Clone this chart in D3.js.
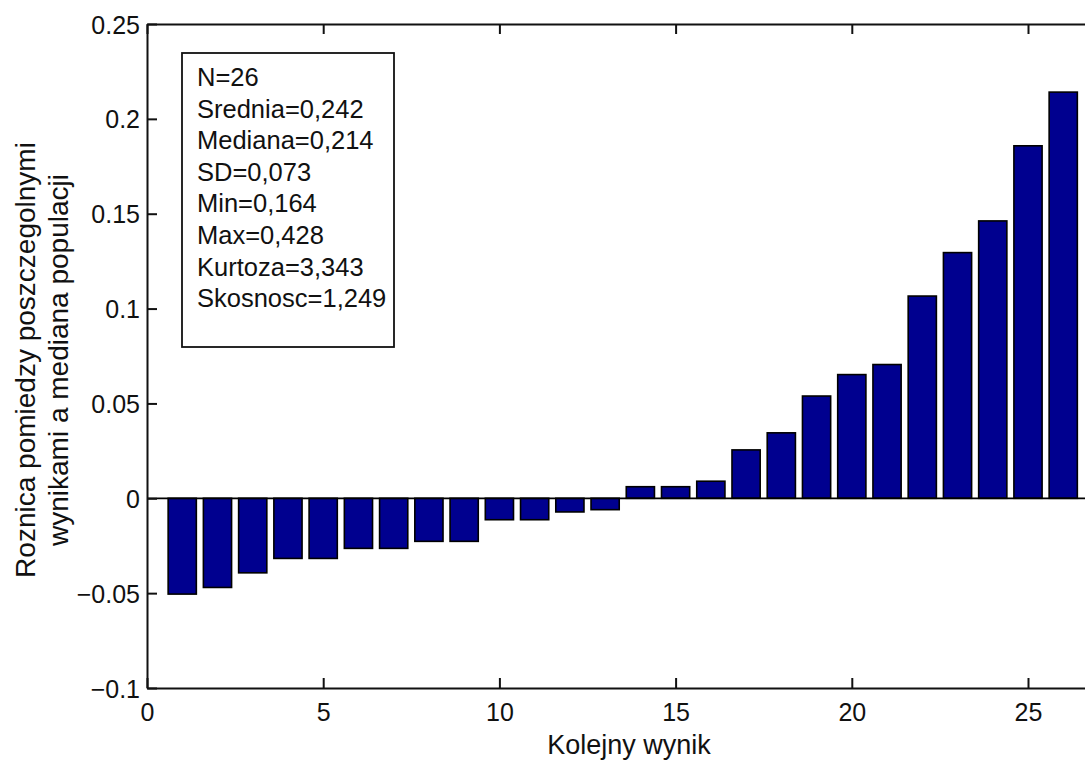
<!DOCTYPE html>
<html>
<head>
<meta charset="utf-8">
<script src="https://cdn.jsdelivr.net/npm/d3@7"></script>
<style>
  html, body { margin: 0; padding: 0; background: #fff; }
  svg { display: block; }
  text { font-family: "Liberation Sans", Arial, Helvetica, sans-serif; fill: #111; }
</style>
</head>
<body>
<svg id="chart" width="1085" height="761"></svg>
<script>
// ---- data ----
const positions = [1,2,3,4,5,6,7,8,9,10,11,12,13,14,15,16,17,18,19,20,21,22,23,24,25,26];
const values = [-0.0505, -0.047, -0.0393, -0.0317, -0.0317, -0.0264, -0.0264, -0.0227, -0.0227,
                -0.0113, -0.0113, -0.0072, -0.006, 0.0061, 0.0061, 0.009, 0.0255, 0.0345,
                0.0539, 0.0652, 0.0705, 0.1066, 0.1295, 0.1462, 0.1858, 0.2141];
const xTicks = [0, 5, 10, 15, 20, 25];
const yTicks = [-0.1, -0.05, 0, 0.05, 0.1, 0.15, 0.2, 0.25];
const yTickLabels = ["\u22120.1", "\u22120.05", "0", "0.05", "0.1", "0.15", "0.2", "0.25"];
const statsLines = ["N=26", "Srednia=0,242", "Mediana=0,214", "SD=0,073", "Min=0,164",
                    "Max=0,428", "Kurtoza=3,343", "Skosnosc=1,249"];
const xLabel = "Kolejny wynik";
const yLabelLines = ["Roznica pomiedzy poszczegolnymi", "wynikami a mediana populacji"];

// ---- layout ----
const svg = d3.select("#chart");
const plotLeft = 147, plotTop = 24, plotBottom = 688;
const x = d3.scaleLinear().domain([0, 27]).range([plotLeft, plotLeft + 27 * 35.24]);
const y = d3.scaleLinear().domain([-0.1, 0.25]).range([plotBottom, plotTop]);
const barW = (x(1) - x(0)) * 0.8;

// bars
svg.append("g").selectAll("rect").data(values).join("rect")
  .attr("x", (d, i) => x(positions[i]) - barW / 2)
  .attr("width", barW)
  .attr("y", d => y(Math.max(0, d)))
  .attr("height", d => Math.abs(y(d) - y(0)))
  .attr("fill", "#00008f")
  .attr("stroke", "#000")
  .attr("stroke-width", 1.6);

// zero baseline
svg.append("line")
  .attr("x1", x(0)).attr("x2", x(27))
  .attr("y1", y(0)).attr("y2", y(0))
  .attr("stroke", "#000").attr("stroke-width", 1.8);

// axes
const axisStyle = g => {
  g.selectAll(".domain").attr("stroke", "#111").attr("stroke-width", 2);
  g.selectAll(".tick line").attr("stroke", "#111").attr("stroke-width", 2);
  g.selectAll(".tick text").style("font-size", "25px").attr("fill", "#111");
};

svg.append("g")
  .attr("transform", `translate(0,${plotBottom})`)
  .call(d3.axisBottom(x).tickValues(xTicks).tickFormat(d3.format("d"))
        .tickSizeInner(-10).tickSizeOuter(0).tickPadding(15))
  .call(axisStyle);

svg.append("g")
  .attr("transform", `translate(0,${plotTop})`)
  .call(d3.axisTop(x).tickValues(xTicks).tickFormat("")
        .tickSizeInner(-10).tickSizeOuter(0))
  .call(axisStyle);

svg.append("g")
  .attr("transform", `translate(${plotLeft},0)`)
  .call(d3.axisLeft(y).tickValues(yTicks).tickFormat((d, i) => yTickLabels[i])
        .tickSizeInner(-10).tickSizeOuter(0).tickPadding(7))
  .call(axisStyle)
  .call(g => g.selectAll(".tick text").attr("dy", "0.36em"));

// stats box
const box = svg.append("g");
box.append("rect")
  .attr("x", 182).attr("y", 53).attr("width", 212).attr("height", 294)
  .attr("fill", "#fff").attr("stroke", "#111").attr("stroke-width", 1.8);
box.selectAll("text").data(statsLines).join("text")
  .attr("x", 197)
  .attr("y", (d, i) => 86 + i * 31.6)
  .style("font-size", "25.5px")
  .text(d => d);

// axis labels
svg.append("text")
  .attr("x", 629).attr("y", 754)
  .attr("text-anchor", "middle")
  .style("font-size", "27px")
  .attr("fill", "#222")
  .text(xLabel);

const yl = svg.append("text")
  .attr("transform", "translate(0,360) rotate(-90)")
  .attr("text-anchor", "middle")
  .style("font-size", "28px")
  .attr("fill", "#222");
yl.selectAll("tspan").data(yLabelLines).join("tspan")
  .attr("x", 0)
  .attr("y", (d, i) => 35 + i * 33)
  .text(d => d);
</script>
</body>
</html>
